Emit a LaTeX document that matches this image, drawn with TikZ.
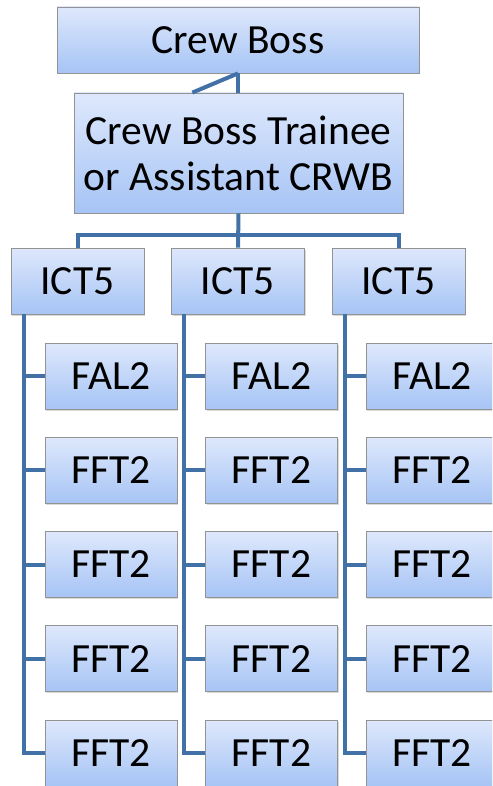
\documentclass[tikz,border=0pt]{standalone}
\usepackage{fontspec}
\setmainfont{Carlito}
\usetikzlibrary{calc}
\usetikzlibrary{shadows}

\definecolor{linkblue}{RGB}{65,113,166}
\definecolor{boxtop}{RGB}{222,232,252}
\definecolor{boxbottom}{RGB}{166,196,245}

\begin{document}
\begin{tikzpicture}[x=1pt, y=-1pt, font=\fontsize{41.5}{46}\selectfont,
    role box/.style={draw=gray!85, line width=0.8pt, top color=boxtop, bottom color=boxbottom,
        inner sep=0pt, align=center,
        drop shadow={shadow xshift=1pt, shadow yshift=-1.5pt, opacity=0.3}},
    small box/.style={role box, minimum width=133pt, minimum height=66pt},
    link/.style={draw=linkblue, line width=4pt}]
    \useasboundingbox (0,0) rectangle (492,786);
    \clip (0,0) rectangle (492,786);

    \node[role box, minimum width=362pt, minimum height=66pt] (boss) at (238,40) {Crew Boss};
    \node[role box, minimum width=329pt, minimum height=120pt] (trainee) at (238.5,153)
        {Crew Boss Trainee\\or Assistant CRWB};

    % assistant connector
    \coordinate (assist) at ($(trainee.north west)!0.36!(trainee.north east)$);
    \draw[link] (boss.south) -- (boss.south |- trainee.north);
    \draw[link] (boss.south) -- (assist);

    \foreach \c/\x in {1/77.5, 2/238, 3/398.5} {
        \node[small box] (ict\c) at (\x,281) {ICT5};
    }

    \coordinate (bar) at (238,235);
    \draw[link] (ict1.north) |- (bar) -| (ict3.north);
    \draw[link] (trainee.south) -- (ict2.north);

    \foreach \c in {1,2,3} {
        \foreach \r/\t in {1/FAL2, 2/FFT2, 3/FFT2, 4/FFT2, 5/FFT2} {
            \node[small box, minimum width=132pt] (crew\c\r) at ($(ict\c)+(33.5,{95+94.25*(\r-1)})$) {\t};
        }
        \coordinate (spine\c) at ($(ict\c.south west)+(13,0)$);
        \draw[link] (spine\c) |- (crew\c5.west);
        \foreach \r in {1,...,4} {
            \draw[link] (crew\c\r.west) -- (crew\c\r.west -| spine\c);
        }
    }
\end{tikzpicture}
\end{document}
